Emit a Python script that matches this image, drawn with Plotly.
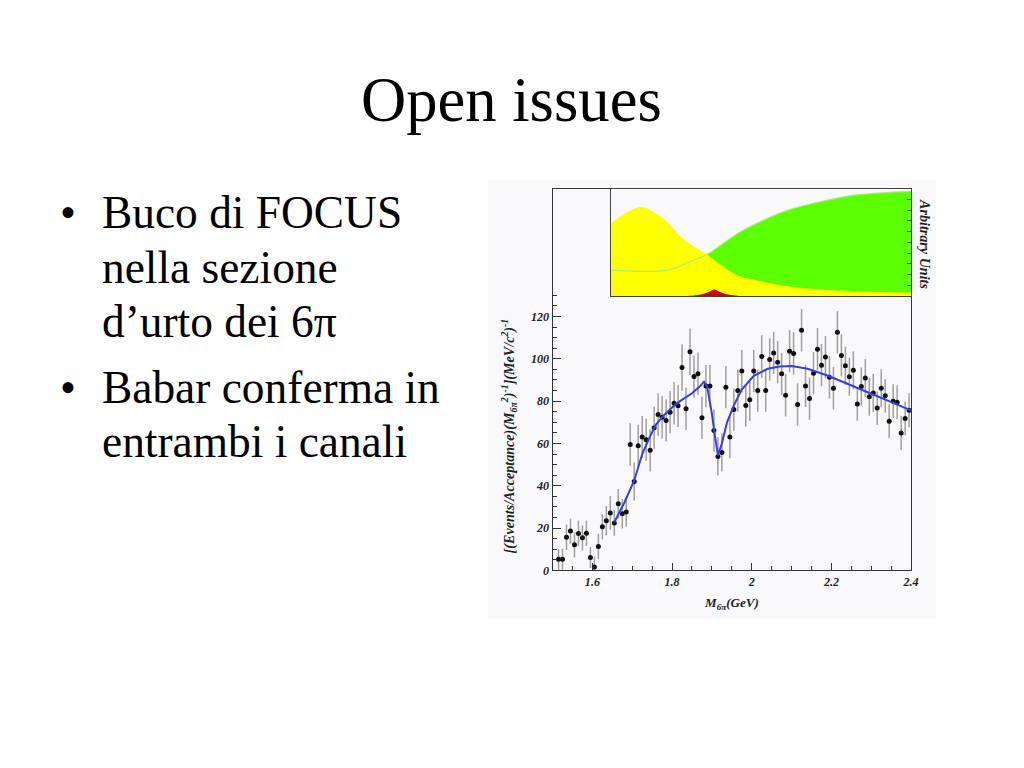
import numpy as np
import plotly.graph_objects as go

# ---------------- data ----------------
mass = np.round(1.515 + 0.01 * np.arange(89), 3)
events = [5.3, 5.3, 15.7, 18.6, 12.1, 17.5, 15.4, 17.6, 6.1, 1.6,
          11.3, 20.6, 23.5, 27.2, 22.4, 31.5, 26.8, 27.6, 59.5, 42.0,
          58.9, 63.0, 61.7, 56.8, 67.4, 73.7, 72.4, 70.9, 74.8, 79.0,
          77.8, 95.9, 76.4, 103.3, 91.6, 93.0, 72.1, 87.1, 87.1, 66.1,
          53.9, 55.7, 86.6, 63.0, 76.0, 85.0, 94.2, 77.9, 80.6, 94.2,
          85.0, 101.1, 85.0, 99.7, 102.8, 98.4, 92.9, 82.8, 103.6, 102.5,
          78.4, 113.5, 87.2, 81.2, 93.2, 104.5, 97.0, 100.8, 91.3, 86.1,
          112.6, 101.6, 96.7, 91.5, 94.6, 78.7, 86.9, 90.9, 82.1, 83.9,
          76.7, 86.1, 82.5, 70.5, 80.0, 79.5, 65.0, 71.8, 75.7]
errors = [5, 5, 6, 6, 6, 6, 6, 6, 5, 5,
          6, 6, 7, 8, 6, 7, 7, 7, 10, 9,
          10, 10, 10, 10, 10, 10, 10, 10, 10, 10,
          10, 11, 10, 11, 10, 10, 10, 10, 10, 10,
          9, 9, 10, 10, 10, 10, 10, 10, 10, 10,
          10, 10, 10, 10, 10, 10, 10, 10, 10, 10,
          10, 10, 10, 10, 10, 10, 10, 10, 10, 10,
          10, 10, 9, 9, 9, 8, 9, 9, 9, 9,
          8, 9, 8, 8, 8, 8, 8, 8, 8]

fit_x = [1.655, 1.68, 1.705, 1.725, 1.745, 1.76, 1.78, 1.80, 1.82, 1.85,
         1.87, 1.88, 1.888, 1.895, 1.90, 1.908, 1.915, 1.925, 1.938, 1.955,
         1.975, 2.005, 2.04, 2.07, 2.10, 2.14, 2.19, 2.24, 2.29, 2.34, 2.40]
fit_y = [22.8, 32.0, 42.5, 55.0, 63.5, 69.0, 73.5, 77.0, 80.0, 83.7,
         87.0, 89.2, 87.0, 80.0, 74.0, 63.0, 54.5, 60.0, 70.0, 78.0,
         85.5, 92.0, 95.3, 96.4, 96.6, 95.3, 92.1, 88.2, 84.2, 80.3, 75.6]

yellow_x = [1.649, 1.68, 1.70, 1.727, 1.773, 1.80, 1.824, 1.857, 1.891, 1.924,
            1.966, 2.008, 2.092, 2.175, 2.259, 2.40]
yellow_y = [0.68, 0.76, 0.80, 0.83, 0.74, 0.65, 0.55, 0.46, 0.38, 0.29,
            0.19, 0.15, 0.09, 0.06, 0.044, 0.032]
green_x = [1.649, 1.79, 1.84, 1.891, 1.924, 1.974, 2.033, 2.092, 2.175, 2.259, 2.343, 2.40]
green_y = [0.24, 0.24, 0.31, 0.39, 0.475, 0.60, 0.71, 0.80, 0.88, 0.94, 0.965, 0.975]
red_x = [1.84, 1.87, 1.895, 1.908, 1.92, 1.945, 1.97]
red_y = [0.0, 0.01, 0.04, 0.06, 0.04, 0.01, 0.0]

x_tickvals = [1.6, 1.8, 2.0, 2.2, 2.4]
x_ticktext = ["1.6", "1.8", "2", "2.2", "2.4"]
y_tickvals = [0, 20, 40, 60, 80, 100, 120]

bullets = [("Buco di FOCUS", 213, True), ("nella sezione", 268, False),
           ("d\u2019urto dei 6\u03c0", 322, False),
           ("Babar conferma in", 388, True), ("entrambi i canali", 442, False)]

# ---------------- figure ----------------
W, H = 1024, 768
SX, SY = 1.008, 1.010   # small compensation for the page capture scaling


def px(x):
    return x * SX / W


def py(y):
    return 1 - y * SY / H


def fs(s):
    return round(s * 1.009, 1)


SERIF = "Liberation Serif"
tickfont = dict(family=SERIF, size=fs(12), color="#222", weight="bold", style="italic")

fig = go.Figure()

# main data
fig.add_trace(go.Scatter(
    x=mass, y=events, mode="markers",
    marker=dict(color="#111", size=5),
    error_y=dict(type="data", array=errors, visible=True, color="#a0a0a0",
                 thickness=1.5, width=0),
    xaxis="x", yaxis="y", showlegend=False, cliponaxis=True))
fig.add_trace(go.Scatter(
    x=fit_x, y=fit_y, mode="lines", line=dict(color="#3c3ce0", width=2),
    xaxis="x", yaxis="y", showlegend=False))

# inset
fig.add_trace(go.Scatter(x=green_x, y=green_y, mode="lines", fill="tozeroy",
                         fillcolor="#5cff00", line=dict(width=0, shape="spline"),
                         xaxis="x2", yaxis="y2", showlegend=False))
fig.add_trace(go.Scatter(x=yellow_x, y=yellow_y, mode="lines", fill="tozeroy",
                         fillcolor="#ffff00", line=dict(width=0, shape="spline"),
                         xaxis="x2", yaxis="y2", showlegend=False))
fig.add_trace(go.Scatter(x=green_x, y=green_y, mode="lines",
                         line=dict(width=1.2, color="#a8f070", shape="spline"),
                         xaxis="x2", yaxis="y2", showlegend=False))
fig.add_trace(go.Scatter(x=red_x, y=red_y, mode="lines", fill="tozeroy",
                         fillcolor="#d00000", line=dict(width=0, shape="spline"),
                         xaxis="x2", yaxis="y2", showlegend=False))

top_y = py(188.5)
fig.update_layout(
    width=W, height=H, margin=dict(l=0, r=0, t=0, b=0),
    paper_bgcolor="white", plot_bgcolor="rgba(0,0,0,0)",
    xaxis=dict(domain=[px(552.5), px(911)], range=[1.5, 2.4], anchor="y",
               tickmode="array", tickvals=x_tickvals, ticktext=x_ticktext,
               ticks="inside", ticklen=7, tickcolor="#333", tickwidth=1,
               minor=dict(ticks="inside", ticklen=4, tickmode="linear", tick0=1.5,
                          dtick=0.05, tickcolor="#333"),
               showline=True, linecolor="#333", linewidth=1, mirror=True,
               showgrid=False, zeroline=False, tickfont=tickfont),
    yaxis=dict(domain=[py(570), top_y], range=[0, 180.4], anchor="x",
               tickmode="array", tickvals=y_tickvals,
               ticks="inside", ticklen=8, tickcolor="#333",
               minor=dict(ticks="inside", ticklen=4, tickmode="array",
                          tickvals=[v for v in range(5, 131, 5)], tickcolor="#333"),
               showline=True, linecolor="#333", linewidth=1, mirror=True,
               showgrid=False, zeroline=False, tickfont=tickfont),
    xaxis2=dict(domain=[px(611), px(911)], range=[1.649, 2.40], anchor="y2",
                showline=True, linecolor="#444", mirror=True, showticklabels=False,
                ticks="", showgrid=False, zeroline=False),
    yaxis2=dict(domain=[py(295.7), top_y], range=[0, 1], anchor="x2", side="right",
                showline=True, linecolor="#444", mirror=True, showticklabels=False,
                tickmode="array", tickvals=[0.1, 0.2, 0.3, 0.4, 0.5, 0.6, 0.7, 0.8, 0.9],
                ticks="inside", ticklen=4, tickcolor="#555",
                showgrid=False, zeroline=False),
    shapes=[dict(type="rect", xref="paper", yref="paper", x0=px(488), x1=px(936),
                 y0=py(618), y1=py(180), fillcolor="#f9f9fb", line=dict(width=0),
                 layer="below")],
)

ann = []
ann.append(dict(text="Open issues", x=px(511), y=py(100), xref="paper", yref="paper",
                showarrow=False, xanchor="center", yanchor="middle",
                font=dict(family=SERIF, size=fs(62), color="black")))
for text, yc, has_bullet in bullets:
    if has_bullet:
        ann.append(dict(text="\u2022", x=px(68), y=py(yc), xref="paper", yref="paper",
                        showarrow=False, xanchor="center", yanchor="middle",
                        font=dict(family=SERIF, size=fs(45), color="black")))
    ann.append(dict(text=text, x=px(100), y=py(yc), xref="paper", yref="paper",
                    showarrow=False, xanchor="left", yanchor="middle",
                    font=dict(family=SERIF, size=fs(45), color="black")))

small_font = dict(family=SERIF, size=fs(14), color="#222", weight="bold", style="italic")
ann.append(dict(text="[(Events/Acceptance)(M<sub>6\u03c0</sub><sup>2</sup>)<sup>-1</sup>](MeV/c<sup>2</sup>)<sup>-1</sup>",
                x=px(509), y=py(436), xref="paper", yref="paper", showarrow=False,
                textangle=-90, xanchor="center", yanchor="middle", font=small_font))
ann.append(dict(text="M<sub>6\u03c0</sub>(GeV)", x=px(731), y=py(603), xref="paper",
                yref="paper", showarrow=False, xanchor="center", yanchor="middle",
                font=dict(family=SERIF, size=fs(13), color="#222", weight="bold", style="italic")))
ann.append(dict(text="Arbitrary Units", x=px(925), y=py(244), xref="paper", yref="paper",
                showarrow=False, textangle=90, xanchor="center", yanchor="middle",
                font=dict(family=SERIF, size=fs(14), color="#222", weight="bold", style="italic")))
fig.update_layout(annotations=ann)

fig.write_html(
    "out.html",
    config={"displayModeBar": False},
    post_script=("document.documentElement.style.overflow='hidden';"
                 "document.body.style.margin='0px';"
                 "document.body.style.overflow='hidden';"),
)
